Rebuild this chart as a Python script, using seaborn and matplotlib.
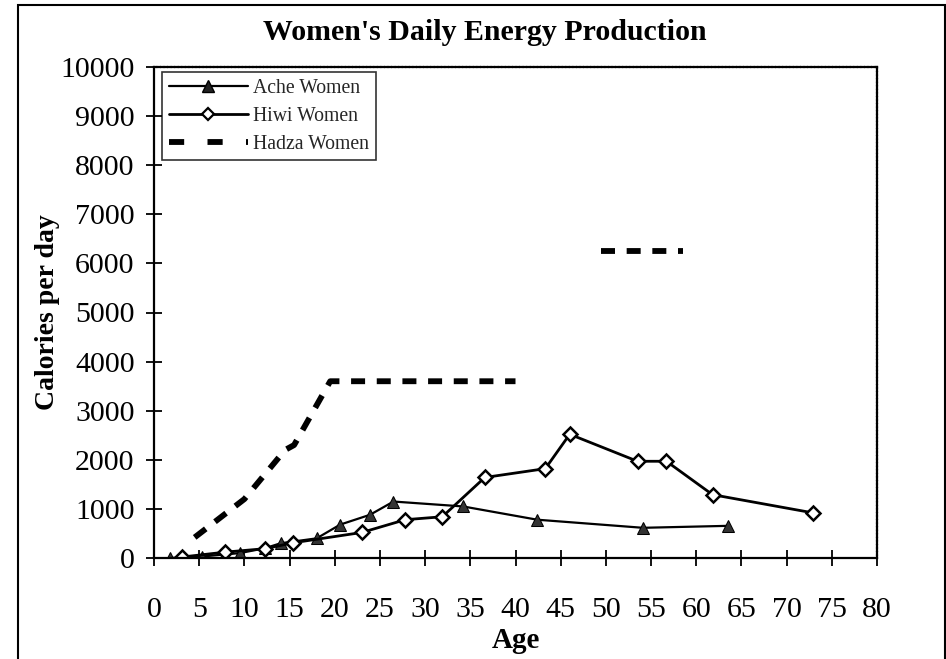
import numpy as np
import pandas as pd
import matplotlib
matplotlib.use('Agg')
import matplotlib.pyplot as plt
from matplotlib.lines import Line2D
from matplotlib.patches import Rectangle
import seaborn as sns

# values
ache_age = [1.8, 5.3, 9.5, 12.3, 14.0, 18.0, 20.6, 23.9, 26.5, 34.2, 42.4, 54.1, 63.5]
ache_cal = [0, 30, 100, 200, 300, 400, 680, 880, 1150, 1050, 780, 615, 655]

hiwi_age = [3.1, 7.9, 12.3, 15.4, 23.0, 27.8, 31.9, 36.6, 43.3, 46.0, 53.5, 56.7, 61.8, 72.9]
hiwi_cal = [20, 120, 190, 310, 520, 780, 840, 1640, 1820, 2520, 1970, 1970, 1290, 920]

hadza_age = [4.5, 10.0, 14.5, 15.5, 19.5, 40.0, 49.5, 58.5]
hadza_cal = [420, 1200, 2200, 2300, 3600, 3600, 6250, 6250]
hadza_seg = [1, 1, 1, 1, 1, 1, 2, 2]

x_ticks = list(range(0, 85, 5))
y_ticks = list(range(0, 11000, 1000))

sns.set_theme(style='white')
plt.rcParams['font.family'] = ['Liberation Serif', 'DejaVu Serif']

fig = plt.figure(figsize=(9.46, 6.59), dpi=100)
ax = fig.add_axes([154 / 946, 1 - 558 / 659, (877 - 154) / 946, (558 - 67) / 659])

df_ache = pd.DataFrame({'Age': ache_age, 'Cal': ache_cal})
df_hiwi = pd.DataFrame({'Age': hiwi_age, 'Cal': hiwi_cal})
df_hadza = pd.DataFrame({'Age': hadza_age, 'Cal': hadza_cal, 'seg': hadza_seg})

sns.lineplot(data=df_hadza, x='Age', y='Cal', units='seg', estimator=None, sort=False,
             color='black', lw=4.2, dashes=False, ax=ax, legend=False)
for ln in ax.lines:
    ln.set_linestyle((0, (2.4, 2.0)))
    ln.set_dash_capstyle('butt')

sns.lineplot(data=df_ache, x='Age', y='Cal', estimator=None, sort=False, color='black',
             lw=1.6, marker='^', markersize=9, markerfacecolor='#333333',
             markeredgecolor='black', ax=ax, legend=False)
sns.lineplot(data=df_hiwi, x='Age', y='Cal', estimator=None, sort=False, color='black',
             lw=2.0, marker='D', markersize=7, markerfacecolor='white',
             markeredgecolor='black', markeredgewidth=1.8, ax=ax, legend=False)

ax.set_xlim(0, 80)
ax.set_ylim(0, 10000)
ax.set_xticks(x_ticks)
ax.set_yticks(y_ticks)
ax.tick_params(axis='both', direction='inout', length=12, width=1.3, color='black',
               labelsize=21.5, labelcolor='black', bottom=True, left=True)
ax.tick_params(axis='y', pad=8)
ax.tick_params(axis='x', pad=22)
for sp in ax.spines.values():
    sp.set_color('black')
    sp.set_linewidth(1.6)
ax.spines['top'].set_linestyle((0, (1, 0.6)))
ax.spines['right'].set_linestyle((0, (1, 0.6)))

ax.set_xlabel('Age', fontsize=21, fontweight='bold', color='black', labelpad=3)
ax.set_ylabel('Calories per day', fontsize=20, fontweight='bold', color='black', labelpad=0)
fig.text(485 / 946, 1 - 32 / 659, "Women's Daily Energy Production", ha='center', va='center',
         fontsize=21.5, fontweight='bold', color='black')

handles = [
    Line2D([], [], color='black', lw=1.6, marker='^', markersize=8, markerfacecolor='#222222'),
    Line2D([], [], color='black', lw=2.0, marker='D', markersize=6, markerfacecolor='white',
           markeredgewidth=1.6),
    Line2D([], [], color='black', lw=4.2, linestyle=(0, (2.6, 4.0)), dash_capstyle='butt'),
]
leg = ax.legend(handles, ['Ache Women', 'Hiwi Women', 'Hadza Women'], loc='upper left',
                bbox_to_anchor=(0.011, 0.99), fontsize=14.2, handlelength=4.0,
                handletextpad=0.25, borderpad=0.35, borderaxespad=0.0, labelspacing=0.45,
                frameon=True, fancybox=False)
leg.get_frame().set_edgecolor('black')
leg.get_frame().set_linewidth(1.2)

fig.add_artist(Rectangle((18 / 946, -0.01), (945 - 18) / 946, 1 - 5 / 659 + 0.01,
                         transform=fig.transFigure, fill=False, edgecolor='black', lw=1.5))

fig.savefig('out.png', dpi=100)
